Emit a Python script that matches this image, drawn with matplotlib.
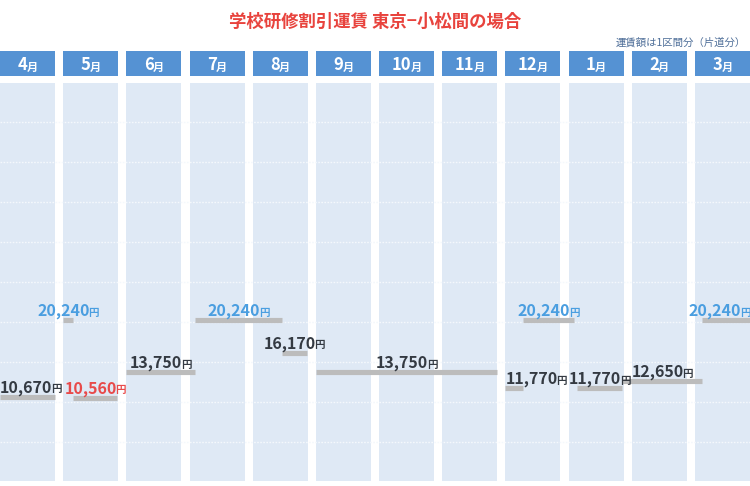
import matplotlib
matplotlib.use("Agg")
from matplotlib import pyplot as plt

plt.rcParams['font.family'] = ['Noto Sans CJK JP', 'DejaVu Sans']

months = ["4", "5", "6", "7", "8", "9", "10", "11", "12", "1", "2", "3"]
# fare periods, x in month slots (0 = start of April)
seg_start = [0.0, 1.0, 1.16, 2.0, 3.09, 4.46, 5.0, 8.0, 8.28, 9.13, 9.85, 11.11]
seg_end = [0.87, 1.16, 1.85, 3.09, 4.46, 4.86, 7.87, 8.28, 9.09, 9.85, 11.11, 11.88]
fares = [10670, 20240, 10560, 13750, 20240, 16170, 13750, 11770, 20240, 11770, 12650, 20240]

title = "学校研修割引運賃 東京−小松間の場合"
note = "運賃額は1区間分（片道分）"

col_w = 0.871
xmax = 11.873
dpi = 100
fig = plt.figure(figsize=(7.5, 4.86), dpi=dpi)
renderer = fig.canvas.get_renderer()

ax = fig.add_axes([0, 5 / 486, 1, 398 / 486])
axh = fig.add_axes([0, 410 / 486, 1, 25 / 486])
for a in (ax, axh):
    a.set_xlim(0, xmax)
    a.axis('off')
ax.set_ylim(125, 49875)
axh.set_ylim(0, 1)

idx = list(range(len(months)))
ax.bar(idx, 49875 - 125, bottom=125, width=col_w, align='edge',
       color='#dfe9f5', zorder=0)
ax.hlines(range(5000, 50000, 5000), 0, xmax, colors='#f4f8fc', lw=1,
          linestyles=(0, (1.2, 1)), zorder=1)
axh.bar(idx, 1, width=col_w, align='edge', color='#5592d3')

ax.hlines(fares, seg_start, seg_end, colors='#bcbcbc', lw=3.7, zorder=2)


def two_part(a, x, y, big, small, color, s1, s2, ha='center', dy=0,
             trans=None, kern=0.0):
    kw = dict(xy=(x, y), textcoords='offset points', color=color,
              fontweight='bold', va='baseline', annotation_clip=False)
    if trans is not None:
        kw['xycoords'] = trans
    t1 = a.annotate(big, xytext=(0, dy), fontsize=s1, ha='right', **kw)
    t2 = a.annotate(small, xytext=(0, dy), fontsize=s2, ha='left', **kw)
    n = t1.get_window_extent(renderer).width * 72 / dpi
    m = t2.get_window_extent(renderer).width * 72 / dpi - kern
    if ha == 'center':
        off = (n - m) / 2
    elif ha == 'left':
        off = n
    else:
        off = -m
    t1.set_position((off, dy))
    t2.set_position((off - kern, dy))


for i, m in enumerate(months):
    two_part(axh, i + col_w / 2, 0.22, m, "月", 'white', 12, 8, kern=0.5)

label_ha = ['center'] * len(fares)
label_ha[0] = 'left'
label_ha[7] = 'left'
label_ha[11] = 'right'
for s, e, f, ha in zip(seg_start, seg_end, fares, label_ha):
    if f == max(fares):
        c = '#4a9ee0'
    elif f == min(fares):
        c = '#e84a4a'
    else:
        c = '#343a42'
    x = {'center': (s + e) / 2, 'left': s, 'right': e}[ha]
    two_part(ax, x, f, f"{f:,}", "円", c, 11.5, 7.5, ha=ha, dy=3, kern=1.0)

fig.text(0.5, 1 - 22 / 486, title, ha='center', va='center', fontsize=12.5,
         fontweight='bold', color='#e8433d')
fig.text(746 / 750, 1 - 42 / 486, note, ha='right', va='center', fontsize=7.5,
         color='#4f6f99')

fig.savefig("out.png", dpi=dpi)
